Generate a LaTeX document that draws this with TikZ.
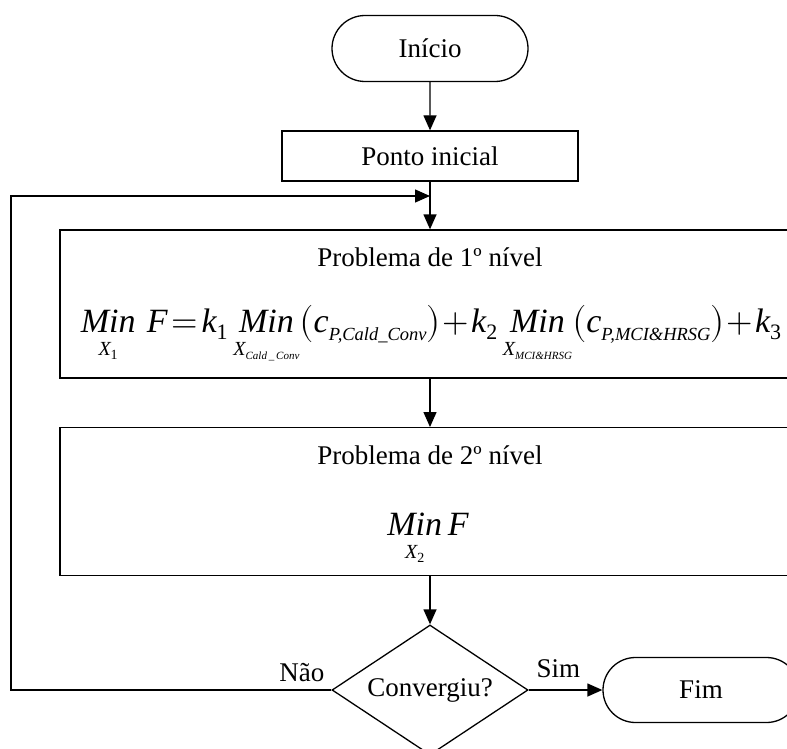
\documentclass[tikz,border=0pt]{standalone}
\usepackage{amsmath}
\usepackage{unicode-math}
\setmainfont{Liberation Serif}
\usetikzlibrary{arrows.meta, shapes.geometric, shapes.misc}

\tikzset{
  terminal/.style={draw, rounded rectangle, minimum width=196pt, minimum height=66pt, inner sep=0pt},
  procbox/.style={draw, rectangle, inner sep=0pt},
  decision/.style={draw, diamond, aspect=1.5, inner sep=0pt, minimum width=196pt, minimum height=130pt},
  flow/.style={-{Triangle[length=15pt,width=13pt]}},
  eqfont/.style={font=\fontsize{34}{40}\selectfont}
}
% operador Min com variavel por baixo
\newcommand{\tightmath}{\thickmuskip=2mu\relax\medmuskip=1mu\relax}
\newcommand{\minsub}[1]{\mathop{\mbox{\itshape Min}}\limits_{#1}}
\newcommand{\varx}[2]{\raisebox{-3pt}{\fontsize{20}{20}\selectfont\itshape X\raisebox{-4pt}{\fontsize{#1}{#1}\selectfont #2}}}
\newcommand{\kv}[1]{\mbox{\itshape k\raisebox{-7pt}{\fontsize{22}{22}\selectfont\upshape #1}}}
\newcommand{\cv}[1]{\mbox{\itshape c\raisebox{-8pt}{\fontsize{18.5}{18.5}\selectfont #1}}}

\begin{document}
\begin{tikzpicture}[x=1pt, y=-1pt, line width=1.3pt, font=\fontsize{27}{32}\selectfont]
    \clip (0,0) rectangle (787,749);
    % Inicio e ponto inicial
    \node[terminal] (ini) at (430,48.5) {Início};
    \node[procbox, minimum width=296pt, minimum height=50pt] (pto) at (430,156) {Ponto inicial};
    % Problema de 1o nivel
    \node[procbox, minimum width=740pt, minimum height=148pt] (p1) at (430,304) {};
    \node (t1) at (430,257) {Problema de 1º nível};
    \node[eqfont, anchor=base] (f1) at (431,332)
        {$\tightmath\minsub{\varx{14}{\upshape 1}}\,\mbox{\itshape F} = \kv{1}
          \minsub{\varx{11}{Cald\,\_\,Conv}}\bigl(\cv{P,Cald\_Conv}\bigr) + \kv{2}
          \minsub{\varx{11}{MCI\&HRSG}}\bigl(\cv{P,MCI\&HRSG}\bigr) + \kv{3}$};
    % Problema de 2o nivel
    \node[procbox, minimum width=740pt, minimum height=148pt] (p2) at (430,501.7) {};
    \node (t2) at (430,455) {Problema de 2º nível};
    \node[eqfont, anchor=base] (f2) at (428,535) {$\minsub{\varx{14}{\upshape 2}}\mbox{\itshape F}$};
    % Decisao e fim
    \node[decision] (conv) at (430,690) {Convergiu?};
    \node[terminal, minimum height=65pt] (fim) at (701,690) {Fim};
    % Ligacoes
    \draw[flow] (ini) -- (pto);
    \draw[flow] (pto) -- (p1);
    \draw[flow] (p1) -- (p2);
    \draw[flow] (p2) -- (conv);
    \draw[flow] (conv) -- (fim);
    \coordinate (lp) at (11,196);
    \coordinate (jn) at (430,196);
    \draw[flow] (conv.west) -| (lp) -- (jn);
    % Rotulos
    \node[anchor=base east, xshift=-3pt, yshift=9pt] (nao) at (conv.west) {Não};
    \node[anchor=base west, xshift=4pt, yshift=13pt] (sim) at (conv.east) {Sim};
\end{tikzpicture}
\end{document}
